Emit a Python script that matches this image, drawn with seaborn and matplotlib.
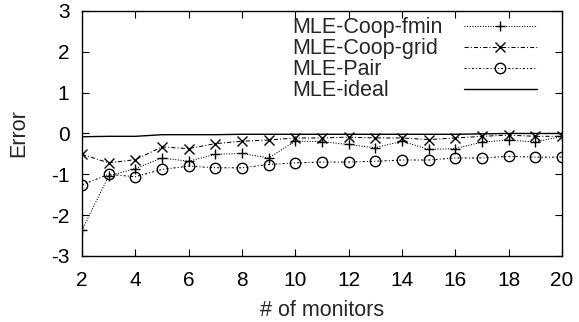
import matplotlib
matplotlib.use("Agg")
import matplotlib.pyplot as plt
import seaborn as sns

# values
monitors = list(range(2, 21))
coop_fmin = [-2.37, -1.04, -0.86, -0.60, -0.68, -0.51, -0.49, -0.60, -0.19, -0.20,
             -0.27, -0.35, -0.19, -0.39, -0.37, -0.21, -0.16, -0.21, -0.07]
coop_grid = [-0.51, -0.72, -0.64, -0.33, -0.37, -0.25, -0.19, -0.16, -0.11, -0.11,
             -0.09, -0.11, -0.11, -0.15, -0.11, -0.07, -0.04, -0.07, -0.07]
pair = [-1.26, -1.00, -1.06, -0.88, -0.80, -0.84, -0.84, -0.76, -0.72, -0.70,
        -0.70, -0.68, -0.65, -0.65, -0.60, -0.60, -0.56, -0.58, -0.58]
ideal = [-0.08, -0.07, -0.07, -0.03, -0.03, -0.03, -0.02, -0.02, -0.02, -0.02,
         -0.02, -0.02, -0.02, -0.02, -0.02, -0.01, 0.0, 0.0, 0.0]

sns.set_style("ticks")
plt.rcParams['font.family'] = ['Liberation Sans', 'DejaVu Sans']
plt.rcParams['axes.unicode_minus'] = False

fig = plt.figure(figsize=(5.79, 3.22), dpi=100)
ax = fig.add_axes([0.1416, 0.205, 0.829, 0.761])

mk = dict(color='k', markeredgecolor='k', markeredgewidth=1.0, markersize=7.5)
sns.lineplot(x=monitors, y=coop_fmin, ax=ax, lw=0.75, marker='+',
             linestyle=(0, (1, 1.5)), label='MLE-Coop-fmin', **mk)
sns.lineplot(x=monitors, y=coop_grid, ax=ax, lw=0.75, marker='x',
             linestyle=(0, (4, 2, 1, 2)), label='MLE-Coop-grid', **mk)
sns.lineplot(x=monitors, y=pair, ax=ax, lw=0.75, marker='o', markerfacecolor='none',
             linestyle=(0, (2, 2, 1, 2)), label='MLE-Pair', **mk)
sns.lineplot(x=monitors, y=ideal, ax=ax, color='k', lw=1.0, label='MLE-ideal')

ax.set_xlim(2, 20)
ax.set_ylim(-3, 3)
ax.set_xticks(range(2, 21, 2))
ax.set_yticks(range(-3, 4))
ax.tick_params(direction='in', top=True, right=True, length=5, width=0.8,
               labelsize=15, colors='k')
ax.tick_params(axis='x', pad=11)
ax.tick_params(axis='y', pad=9)
for s in ax.spines.values():
    s.set_linewidth(1.0)
    s.set_color('k')

ax.set_xlabel('# of monitors', fontsize=15.5, labelpad=7)
ax.set_ylabel('Error', fontsize=15.5, labelpad=16)

leg = ax.legend(loc='upper right', bbox_to_anchor=(0.948, 0.975), frameon=False,
                markerfirst=False, handlelength=3.4, labelspacing=0.0, borderpad=0,
                borderaxespad=0, handletextpad=1.0, fontsize=15.5)
# left-align the texts while keeping the line samples in one column
renderer = fig.canvas.get_renderer()
widths = [t.get_window_extent(renderer).width for t in leg.get_texts()]
rows = leg._legend_handle_box.get_children()[0].get_children()
for row, w in zip(rows, widths):
    row.sep += (max(widths) - w) * 72 / fig.dpi

fig.savefig('out.png', dpi=100)
